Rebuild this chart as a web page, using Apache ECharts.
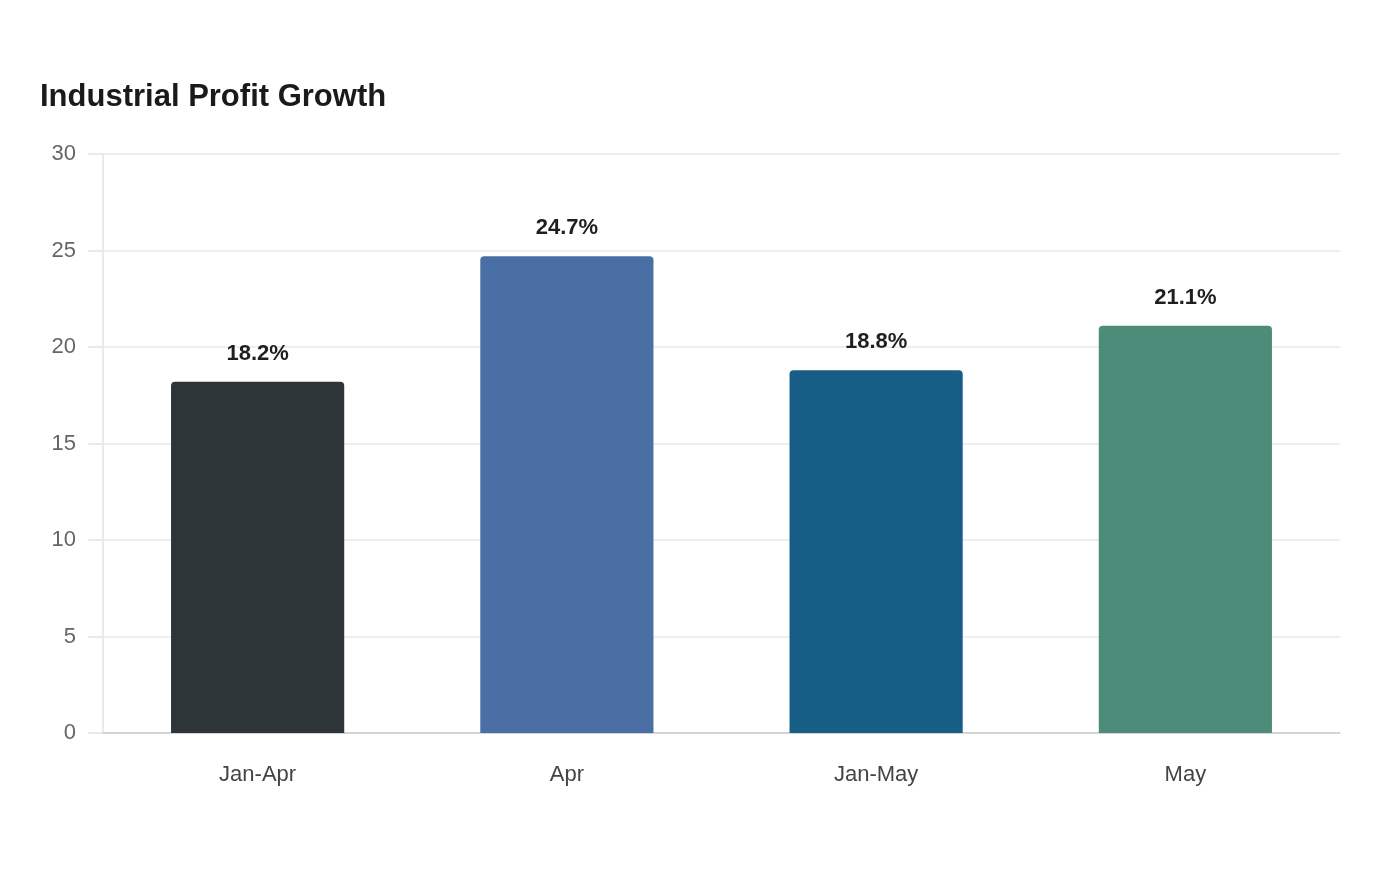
<!DOCTYPE html>
<html>
<head>
<meta charset="utf-8">
<style>
  html, body { margin: 0; padding: 0; background: #fff; }
  #chart { width: 1400px; height: 880px; }
</style>
<script src="https://cdn.jsdelivr.net/npm/echarts@6/dist/echarts.min.js"></script>
</head>
<body>
<div id="chart"></div>
<script>
const categories = ["Jan-Apr", "Apr", "Jan-May", "May"];
const growth = [18.2, 24.7, 18.8, 21.1];
const barColors = ["#2e3538", "#4a6fa5", "#175e87", "#4e8c7a"];

const font = "Arial";

const chart = echarts.init(document.getElementById("chart"));

const option = {
  backgroundColor: "#fff",
  textStyle: { fontFamily: font },
  title: {
    text: "Industrial Profit Growth",
    left: 40,
    top: 82,
    padding: 0,
    textStyle: { fontSize: 31, fontWeight: "bold", color: "#1a1a1a", fontFamily: font }
  },
  grid: { left: 103, right: 60, top: 154, bottom: 147 },
  xAxis: {
    type: "category",
    data: categories,
    axisLine: { lineStyle: { color: "#cccccc", width: 1.5 } },
    axisTick: { show: false },
    axisLabel: { fontSize: 22, color: "#444", margin: 31, fontFamily: font }
  },
  yAxis: {
    type: "value",
    min: 0,
    max: 30,
    interval: 5,
    axisLine: { show: true, lineStyle: { color: "#e3e3e3", width: 1.5 } },
    axisTick: { show: true, length: 15, lineStyle: { color: "#e3e3e3", width: 1.5 } },
    splitLine: { lineStyle: { color: "#e8e8e8", width: 1.5 } },
    axisLabel: { fontSize: 22, color: "#666", margin: 27, fontFamily: font }
  },
  series: [
    {
      type: "bar",
      barWidth: "56%",
      data: growth.map(function (v, i) {
        return { value: v, itemStyle: { color: barColors[i] } };
      }),
      itemStyle: { borderRadius: [4, 4, 0, 0] },
      label: {
        show: true,
        position: "top",
        distance: 17,
        fontSize: 22,
        fontWeight: "bold",
        color: "#1f1f1f",
        fontFamily: font,
        formatter: function (p) { return p.value.toFixed(1) + "%"; }
      }
    }
  ]
};

chart.setOption(option);
</script>
</body>
</html>
